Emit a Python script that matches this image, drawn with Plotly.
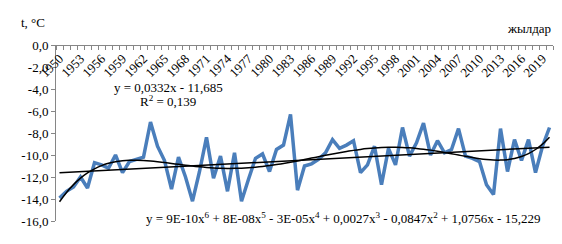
import numpy as np
import plotly.graph_objects as go

years = list(range(1950, 2021))
temps = [
    -13.9, -13.3, -12.9, -12.0, -13.0, -10.7, -10.9, -11.2, -10.0, -11.6,
    -10.6, -10.4, -10.2, -7.0, -9.2, -10.5, -13.1, -10.2, -12.0, -14.2,
    -11.5, -8.4, -12.1, -10.1, -13.3, -9.8, -14.2, -12.2, -10.3, -9.9,
    -11.5, -9.5, -9.1, -6.3, -13.2, -11.0, -10.8, -10.4, -9.8, -8.6,
    -9.4, -9.1, -8.7, -11.6, -10.9, -9.2, -12.7, -9.4, -10.9, -7.5,
    -10.1, -8.9, -7.1, -10.0, -8.7, -9.8, -9.5, -7.6, -10.1, -10.3,
    -10.6, -12.7, -13.6, -7.6, -11.5, -8.6, -10.5, -8.6, -11.6, -9.2,
    -7.5,
]
x_label_years = list(range(1950, 2021, 3))
y_tick_vals = [0, -2, -4, -6, -8, -10, -12, -14, -16]
y_tick_text = ["0,0", "-2,0", "-4,0", "-6,0", "-8,0", "-10,0", "-12,0", "-14,0", "-16,0"]

linear_eq = "y = 0,0332x - 11,685"
r2_text = "R<sup>2</sup> = 0,139"
poly_eq = ("y = 9E-10x<sup>6</sup> + 8E-08x<sup>5</sup> - 3E-05x<sup>4</sup> + 0,0027x<sup>3</sup>"
           " - 0,0847x<sup>2</sup> + 1,0756x - 15,229")

# trend lines (Excel-style: x = 1..n)
xi = np.arange(1, len(temps) + 1, dtype=float)
lin = np.polynomial.Polynomial.fit(xi, temps, 1)
poly = np.polynomial.Polynomial.fit(xi, temps, 6)

FONT = "Times New Roman, Liberation Serif, serif"

fig = go.Figure()
fig.add_trace(go.Scatter(x=years, y=temps, mode="lines",
                         line=dict(color="#4a7ebb", width=3.5), showlegend=False))
fig.add_trace(go.Scatter(x=years, y=poly(xi), mode="lines",
                         line=dict(color="#000000", width=1.5, shape="spline"), showlegend=False))
fig.add_trace(go.Scatter(x=years, y=lin(xi), mode="lines",
                         line=dict(color="#000000", width=1.5), showlegend=False))

fig.update_layout(
    width=562, height=244,
    margin=dict(l=48, r=17, t=37, b=31),
    paper_bgcolor="white", plot_bgcolor="white",
    font=dict(family=FONT, size=13, color="#000000"),
    xaxis=dict(
        range=[1949.5, 2020.5], anchor="free", position=1, side="bottom",
        tickmode="array", tickvals=x_label_years, ticktext=[str(y) for y in x_label_years],
        tickangle=-45, ticks="", showline=True, linecolor="#868686", linewidth=1,
        showgrid=False, zeroline=False, automargin=False,
        tickfont=dict(family=FONT, size=13),
        minor=dict(tickmode="array", tickvals=[1949.5 + k for k in range(72)],
                   ticks="outside", ticklen=4, tickcolor="#868686", showgrid=False),
    ),
    yaxis=dict(
        range=[-16, 0], tickmode="array", tickvals=y_tick_vals, ticktext=y_tick_text,
        showline=True, linecolor="#868686", linewidth=1, ticks="outside", ticklen=4,
        tickcolor="#868686", showgrid=False, zeroline=False, automargin=False,
        tickfont=dict(family=FONT, size=13),
    ),
    annotations=[
        dict(text="t, °C", xref="paper", yref="paper", x=-0.075, y=1.0, yshift=23,
             xanchor="left", yanchor="middle", showarrow=False, font=dict(family=FONT, size=13)),
        dict(text="жылдар", xref="paper", yref="paper", x=1.0, y=1.0, yshift=17,
             xanchor="right", yanchor="middle", showarrow=False, font=dict(family=FONT, size=13)),
        dict(text=linear_eq, xref="x", yref="y", x=1965.5, y=-3.9,
             xanchor="center", yanchor="middle", showarrow=False, font=dict(family=FONT, size=13)),
        dict(text=r2_text, xref="x", yref="y", x=1965.5, y=-5.1,
             xanchor="center", yanchor="middle", showarrow=False, font=dict(family=FONT, size=13)),
        dict(text=poly_eq, xref="x", yref="y", x=1990.5, y=-15.7,
             xanchor="center", yanchor="middle", showarrow=False, font=dict(family=FONT, size=13)),
    ],
)

fig.write_html("out.html")
